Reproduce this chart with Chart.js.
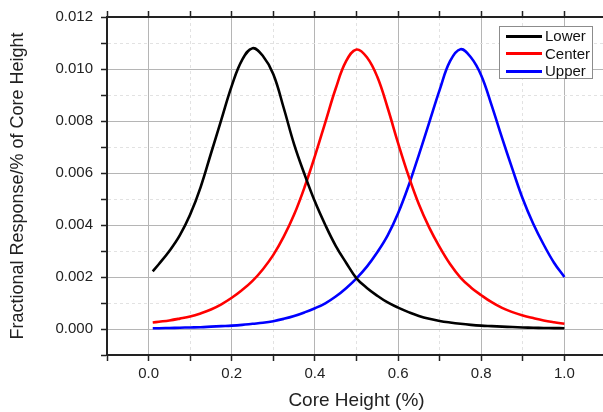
<!DOCTYPE html>
<html>
<head>
<meta charset="utf-8">
<script src="https://cdn.jsdelivr.net/npm/chart.js@4.4.1/dist/chart.umd.min.js"></script>
<style>
  html, body { margin: 0; padding: 0; overflow: hidden; background: #fff; }
  #wrap { position: relative; width: 603px; height: 412px; overflow: hidden; }
  #legend {
    position: absolute; left: 499px; top: 26px; width: 92px; height: 51px;
    border: 1px solid #8c8c8c; background: #fff;
    font-family: "Liberation Sans", Arial, sans-serif; font-size: 15px; color: #111;
  }
  .item { position: absolute; left: 6px; height: 18px; line-height: 18px; white-space: nowrap; }
  .item span.swatch { display: inline-block; width: 36px; height: 3px; vertical-align: middle; margin-right: 3px; position: relative; top: -1px; }
</style>
</head>
<body>
<div id="wrap">
  <canvas id="chart" width="610" height="412"></canvas>
  <div id="legend"></div>
</div>
<script>
const xValues = [0.01, 0.025, 0.05, 0.075, 0.1, 0.125, 0.15, 0.175, 0.2, 0.225, 0.25, 0.275, 0.3, 0.325, 0.35, 0.375, 0.4, 0.425, 0.45, 0.475, 0.5,
                 0.525, 0.55, 0.575, 0.6, 0.625, 0.65, 0.675, 0.7, 0.725, 0.75, 0.775, 0.8, 0.825, 0.85, 0.875, 0.9, 0.925, 0.95, 0.975, 1.0];

const lowerValues = [0.00222, 0.0025, 0.003, 0.0036, 0.0044, 0.00545, 0.00675, 0.00805, 0.00935, 0.01035, 0.0108, 0.0105, 0.0098, 0.0085, 0.0071, 0.00595, 0.0049, 0.004, 0.0032, 0.00255, 0.00195,
                     0.00158, 0.00128, 0.00102, 0.00082, 0.00065, 0.0005, 0.00039, 0.00031, 0.00025, 0.0002, 0.00016, 0.00013, 0.00011, 0.00009, 0.000075, 0.00006, 0.00005, 0.00004, 0.000035, 0.00003];

const centerValues = [0.00025, 0.00028, 0.00033, 0.0004, 0.00048, 0.0006, 0.00075, 0.00095, 0.0012, 0.0015, 0.00185, 0.0023, 0.00285, 0.00355, 0.0044, 0.00545, 0.00665, 0.00795, 0.00925, 0.0103, 0.01075,
                      0.01045, 0.0097, 0.0085, 0.00715, 0.0059, 0.0048, 0.0039, 0.00315, 0.0025, 0.00198, 0.0016, 0.0013, 0.00103, 0.00081, 0.00065, 0.00052, 0.00042, 0.00033, 0.00026, 0.0002];

const upperValues = [0.00003, 0.00003, 0.00004, 0.00005, 0.00006, 0.00007, 0.00009, 0.00011, 0.00013, 0.00016, 0.0002, 0.00024, 0.0003, 0.00039, 0.0005, 0.00064, 0.0008, 0.00099, 0.00125, 0.00157, 0.00195,
                     0.0024, 0.00295, 0.0036, 0.00445, 0.0055, 0.0067, 0.00795, 0.0092, 0.0103, 0.01076, 0.01045, 0.00975, 0.0086, 0.00735, 0.00615, 0.005, 0.00405, 0.00325, 0.00255, 0.002];

const seriesNames = ["Lower", "Center", "Upper"];
const seriesColors = ["#000000", "#ff0000", "#0000ff"];

const xTicks = [-0.1, 0, 0.1, 0.2, 0.3, 0.4, 0.5, 0.6, 0.7, 0.8, 0.9, 1.0, 1.1];
const xTickLabels = [0, 0.2, 0.4, 0.6, 0.8, 1.0];
const yTicks = [-0.001, 0, 0.001, 0.002, 0.003, 0.004, 0.005, 0.006, 0.007, 0.008, 0.009, 0.01, 0.011, 0.012];
const yTickLabels = [0, 0.002, 0.004, 0.006, 0.008, 0.01, 0.012];

const FONT = '"Liberation Sans", Arial, sans-serif';

function inList(list, v) {
    return list.some(t => Math.abs(t - v) < 1e-9);
}
function gridColor(list) {
    return ctx => (ctx.tick && inList(list, ctx.tick.value)) ? "#b5b5b5" : "#e2e2e2";
}
function gridDash(list) {
    return ctx => (!ctx.tick || inList(list, ctx.tick.value)) ? [] : [3, 3];
}

const seriesData = [lowerValues, centerValues, upperValues];
const datasets = seriesData.map((vals, i) => ({
    label: seriesNames[i],
    data: vals.map((y, j) => ({ x: xValues[j], y: y })),
    borderColor: seriesColors[i],
    backgroundColor: seriesColors[i],
    borderWidth: 2.6,
    pointRadius: 0,
    tension: 0.4,
    fill: false
}));

const xAxisBase = {
    type: "linear",
    min: -0.1,
    max: 1.1,
    afterBuildTicks: scale => { scale.ticks = xTicks.map(v => ({ value: v })); },
    border: { color: "#222", width: 2, dash: gridDash(xTickLabels) },
};

new Chart(document.getElementById("chart"), {
    type: "line",
    data: { datasets: datasets },
    options: {
        responsive: false,
        animation: false,
        layout: { padding: { left: 0, right: 3, top: 0, bottom: 0 } },
        plugins: { legend: { display: false }, tooltip: { enabled: false } },
        scales: {
            x: Object.assign({}, xAxisBase, {
                position: "bottom",
                grid: { color: gridColor(xTickLabels), lineWidth: 1, tickColor: "#222", tickLength: 6, tickWidth: 1.5 },
                ticks: {
                    autoSkip: false, maxRotation: 0, padding: 4, color: "#222",
                    font: { family: FONT, size: 15 },
                    callback: v => inList(xTickLabels, v) ? v.toFixed(1) : ""
                },
                title: { display: true, text: "Core Height (%)", color: "#222", font: { family: FONT, size: 19 }, padding: { top: 0, bottom: 0 } },
                afterFit: scale => { scale.height = 57; }
            }),
            x2: Object.assign({}, xAxisBase, {
                position: "top",
                grid: { drawOnChartArea: false, tickColor: "#222", tickLength: 6, tickWidth: 1.5 },
                ticks: { display: false },
                afterFit: scale => { scale.height = 15; }
            }),
            y: {
                type: "linear",
                position: "left",
                min: -0.001,
                max: 0.012,
                afterBuildTicks: scale => { scale.ticks = yTicks.map(v => ({ value: v })); },
                border: { color: "#222", width: 2, dash: gridDash(yTickLabels) },
                grid: { color: gridColor(yTickLabels), lineWidth: 1, tickColor: "#222", tickLength: 6, tickWidth: 1.5 },
                ticks: {
                    autoSkip: false, padding: 8, color: "#222",
                    font: { family: FONT, size: 15 },
                    callback: v => inList(yTickLabels, v) ? v.toFixed(3) : ""
                },
                title: { display: true, text: "Fractional Response/% of Core Height", color: "#222", font: { family: FONT, size: 18 }, padding: { top: 7, bottom: 0 } },
                afterFit: scale => { scale.width = 107; }
            }
        }
    }
});

// legend box drawn as html, inside the plot like the original
const legend = document.getElementById("legend");
seriesNames.forEach((name, i) => {
    const row = document.createElement("div");
    row.className = "item";
    row.style.top = (0 + i * 17.6) + "px";
    row.innerHTML = '<span class="swatch" style="background:' + seriesColors[i] + '"></span>' + name;
    legend.appendChild(row);
});
</script>
</body>
</html>
